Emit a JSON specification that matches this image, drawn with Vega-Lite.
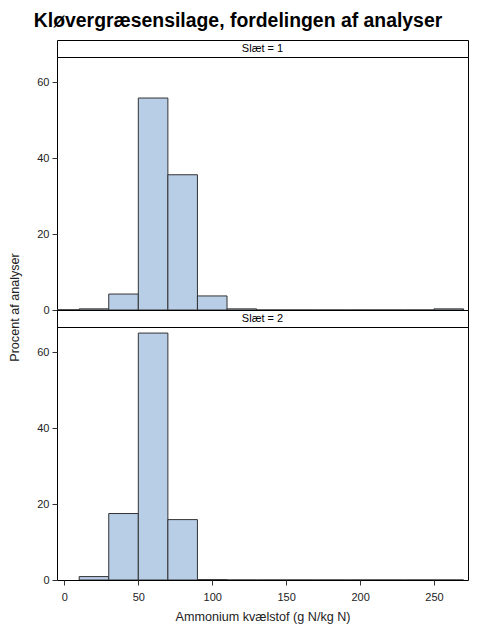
{
  "$schema": "https://vega.github.io/schema/vega-lite/v6.json",
  "title": {
    "text": "Kløvergræsensilage, fordelingen af analyser",
    "font": "Liberation Sans",
    "fontSize": 19.4,
    "fontWeight": "bold",
    "color": "black",
    "anchor": "middle",
    "offset": 8
  },
  "padding": {"left": 7, "top": 11, "right": 12, "bottom": 5},
  "background": "white",
  "spacing": 0,
  "bounds": "flush",
  "datasets": {
    "bins": [
      {"slaet": 1, "start": -10, "end": 10, "pct": 0.05},
      {"slaet": 1, "start": 10, "end": 30, "pct": 0.3},
      {"slaet": 1, "start": 30, "end": 50, "pct": 4.2},
      {"slaet": 1, "start": 50, "end": 70, "pct": 55.8},
      {"slaet": 1, "start": 70, "end": 90, "pct": 35.6},
      {"slaet": 1, "start": 90, "end": 110, "pct": 3.7},
      {"slaet": 1, "start": 110, "end": 130, "pct": 0.3},
      {"slaet": 1, "start": 130, "end": 150, "pct": 0},
      {"slaet": 1, "start": 150, "end": 170, "pct": 0},
      {"slaet": 1, "start": 170, "end": 190, "pct": 0},
      {"slaet": 1, "start": 190, "end": 210, "pct": 0},
      {"slaet": 1, "start": 210, "end": 230, "pct": 0},
      {"slaet": 1, "start": 230, "end": 250, "pct": 0},
      {"slaet": 1, "start": 250, "end": 270, "pct": 0.3},
      {"slaet": 2, "start": 10, "end": 30, "pct": 0.9},
      {"slaet": 2, "start": 30, "end": 50, "pct": 17.5},
      {"slaet": 2, "start": 50, "end": 70, "pct": 65.0},
      {"slaet": 2, "start": 70, "end": 90, "pct": 15.9},
      {"slaet": 2, "start": 90, "end": 110, "pct": 0.1},
      {"slaet": 2, "start": 110, "end": 130, "pct": 0},
      {"slaet": 2, "start": 130, "end": 150, "pct": 0},
      {"slaet": 2, "start": 150, "end": 170, "pct": 0},
      {"slaet": 2, "start": 170, "end": 190, "pct": 0},
      {"slaet": 2, "start": 190, "end": 210, "pct": 0},
      {"slaet": 2, "start": 210, "end": 230, "pct": 0},
      {"slaet": 2, "start": 230, "end": 250, "pct": 0},
      {"slaet": 2, "start": 250, "end": 270, "pct": 0}
    ]
  },
  "vconcat": [
    {
      "width": 411,
      "height": 17,
      "data": {"values": [{"label": "Slæt = 1"}]},
      "mark": {"type": "text", "font": "Liberation Sans", "fontSize": 11, "color": "black"},
      "encoding": {
        "text": {"field": "label"},
        "y": {"field": "label", "type": "nominal", "axis": null}
      }
    },
    {
      "width": 411,
      "height": 253,
      "data": {"name": "bins"},
      "transform": [{"filter": "datum.slaet == 1"}],
      "mark": {"type": "bar", "fill": "#B8CDE6", "stroke": "#333333", "strokeWidth": 1, "clip": true},
      "encoding": {
        "x": {
          "field": "start",
          "type": "quantitative",
          "scale": {"domain": [-5, 273], "nice": false, "zero": false},
          "axis": null
        },
        "x2": {"field": "end"},
        "y": {
          "field": "pct",
          "type": "quantitative",
          "scale": {"domain": [0, 66.6], "nice": false},
          "axis": {"values": [0, 20, 40, 60], "title": null}
        },
        "y2": {"datum": 0}
      }
    },
    {
      "width": 411,
      "height": 17,
      "data": {"values": [{"label": "Slæt = 2"}]},
      "mark": {"type": "text", "font": "Liberation Sans", "fontSize": 11, "color": "black"},
      "encoding": {
        "text": {"field": "label"},
        "y": {
          "field": "label",
          "type": "nominal",
          "axis": {
            "labels": false,
            "ticks": false,
            "domain": false,
            "title": "Procent af analyser",
            "titlePadding": 36,
            "titleY": -3
          }
        }
      }
    },
    {
      "width": 411,
      "height": 253,
      "data": {"name": "bins"},
      "transform": [{"filter": "datum.slaet == 2"}],
      "mark": {"type": "bar", "fill": "#B8CDE6", "stroke": "#333333", "strokeWidth": 1, "clip": true},
      "encoding": {
        "x": {
          "field": "start",
          "type": "quantitative",
          "scale": {"domain": [-5, 273], "nice": false, "zero": false},
          "axis": {
            "values": [0, 50, 100, 150, 200, 250],
            "title": "Ammonium kvælstof (g N/kg N)"
          }
        },
        "x2": {"field": "end"},
        "y": {
          "field": "pct",
          "type": "quantitative",
          "scale": {"domain": [0, 66.6], "nice": false},
          "axis": {"values": [0, 20, 40, 60], "title": null}
        },
        "y2": {"datum": 0}
      }
    }
  ],
  "config": {
    "font": "Liberation Sans",
    "view": {"stroke": "black", "strokeWidth": 1},
    "axis": {
      "grid": false,
      "domain": false,
      "tickSize": 5,
      "tickColor": "#333333",
      "labelFont": "Liberation Sans",
      "labelFontSize": 11,
      "labelColor": "#222222",
      "labelPadding": 3,
      "titleFont": "Liberation Sans",
      "titleFontSize": 12.6,
      "titleFontWeight": "normal",
      "titleColor": "#222222"
    },
    "axisX": {"titlePadding": 8, "labelPadding": 6}
  }
}
